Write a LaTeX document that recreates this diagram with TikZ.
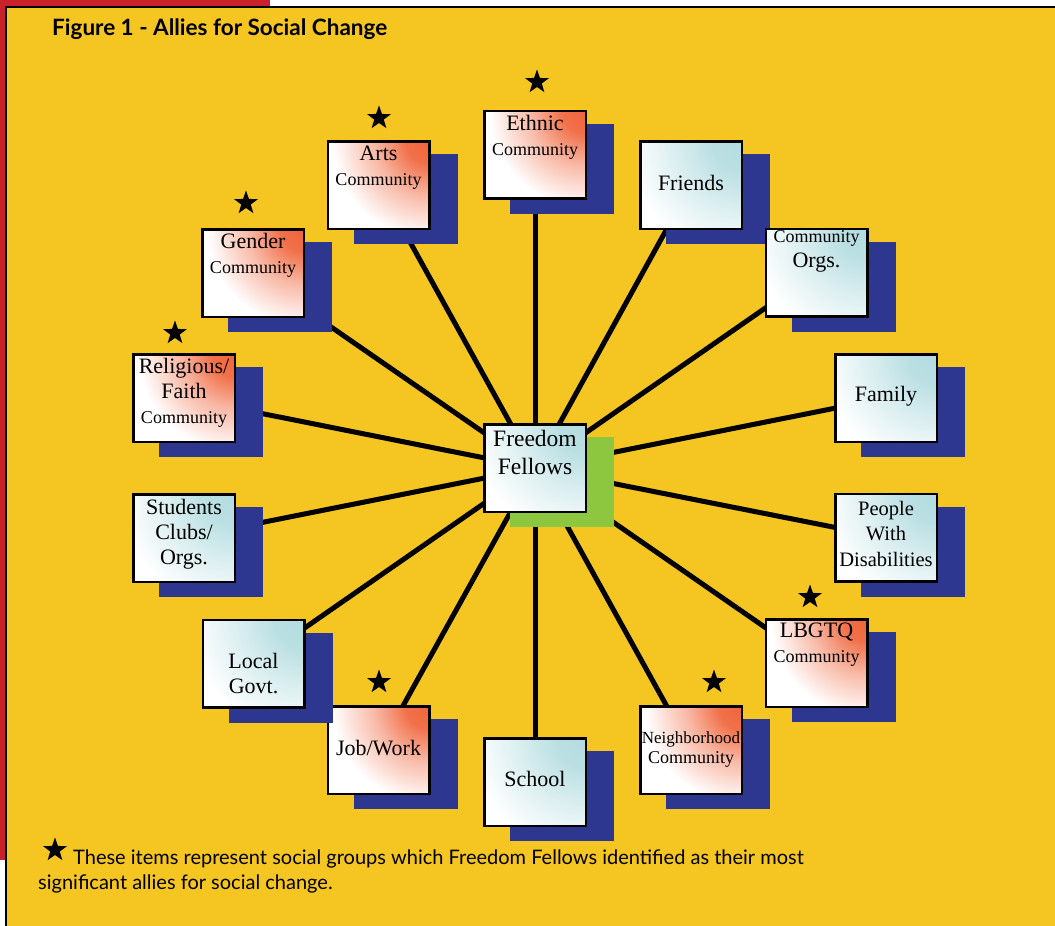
\documentclass[tikz,border=0pt]{standalone}
\usepackage{fontspec}
\setmainfont{Liberation Serif}
\newfontfamily\gillfont{Lato}
\usetikzlibrary{shapes.geometric,shadows,backgrounds}

\definecolor{panel}{HTML}{F5C522}
\definecolor{edge}{HTML}{C9212B}
\definecolor{navy}{HTML}{2E3790}
\definecolor{leaf}{HTML}{8DC63F}
\definecolor{hot}{HTML}{F0643A}
\definecolor{ice}{HTML}{B3DCE0}

\pgfdeclareradialshading{hotcorner}{\pgfpointorigin}{color(0bp)=(hot); color(5bp)=(hot!92!white); color(12bp)=(hot!45!white); color(21bp)=(white); color(50bp)=(white)}
\pgfdeclareradialshading{icecorner}{\pgfpointorigin}{color(0bp)=(ice); color(6bp)=(ice!90!white); color(14bp)=(ice!45!white); color(23bp)=(white); color(50bp)=(white)}

\newcommand{\bigtxt}{\fontsize{22}{25}\selectfont}
\newcommand{\smtxt}{\fontsize{18}{24}\selectfont}

\begin{document}
\begin{tikzpicture}[x=1pt, y=-1pt,
	box/.style={draw=black, line width=2.5pt, fill=white, inner sep=0pt,
		minimum width=101.5pt, minimum height=87.5pt,
		drop shadow={shadow xshift=27pt, shadow yshift=-14pt, fill=#1, draw=#1, opacity=1}},
	box/.default=navy,
	warm/.style={box, path picture={\shade[shading=hotcorner]
		(path picture bounding box.north east) circle (115pt);}},
	cool/.style={box=#1, path picture={\shade[shading=icecorner]
		(path picture bounding box.north east) circle (125pt);}},
	cool/.default=navy,
	spoke/.style={line width=5pt},
	starmark/.style={star, star points=5, star point ratio=2.5, fill=black, inner sep=0pt, minimum size=25pt},
	every label/.style={align=center, inner sep=0pt, font=\bigtxt}]
	\useasboundingbox (0,0) rectangle (1055,926);
	
	% Page frame
	\begin{scope}[on background layer]
		\fill[white] (0,0) rectangle (1055,926);
		\fill[edge] (0,0) rectangle (270,8);
		\fill[edge] (0,0) rectangle (7,860);
		\fill[panel] (6,7) rectangle (1055,926);
		\draw[line width=2pt] (6,926) -- (6,7) -- (1055,7);
	\end{scope}
	
	% Title
	\node[anchor=west, inner sep=0pt, font=\gillfont\bfseries\fontsize{22.5}{26}\selectfont] (title) at (52,29) {Figure 1 - Allies for Social Change};
	
	% Center
	\node[cool=leaf, label={[yshift=16pt, font=\fontsize{23.5}{28}\selectfont]center:{Freedom\\Fellows}}] (ff) at (535,468) {};
	
	% Allies
	\node[warm, label={[yshift=17pt]center:{Ethnic\\\smtxt Community}}] (ethnic) at (535,154.5) {};
	\node[cool, label={[yshift=2pt]center:{Friends}}] (friends) at (691,185) {};
	\node[cool, label={[yshift=21pt]center:{\smtxt Community\\Orgs.}}] (orgs) at (816.5,272.5) {};
	\node[cool, label={[yshift=2pt]center:{Family}}] (family) at (886,398) {};
	\node[cool, label={[yshift=4pt, font=\fontsize{20.5}{25.5}\selectfont]center:{People\\With\\Disabilities}}] (disab) at (886,537.5) {};
	\node[warm, label={[yshift=18pt]center:{LBGTQ\\\smtxt Community}}] (lbgtq) at (816.5,663) {};
	\node[warm, label={[yshift=0pt, font=\fontsize{17}{20}\selectfont]center:{Neighborhood\\\smtxt Community}}] (neigh) at (691,750) {};
	\node[cool, label={[yshift=3pt]center:{School}}] (school) at (535,782) {};
	\node[warm, label={[yshift=2pt]center:{Job/Work}}] (job) at (378.5,750) {};
	\node[cool, label={[yshift=-10pt]center:{Local\\Govt.}}] (govt) at (253.5,663.5) {};
	\node[cool, label={[yshift=4pt]center:{Students\\Clubs/\\Orgs.}}] (students) at (184,538) {};
	\node[warm, label={[yshift=5pt]center:{Religious/\\Faith\\\smtxt Community}}] (faith) at (184,398) {};
	\node[warm, label={[yshift=18pt]center:{Gender\\\smtxt Community}}] (gender) at (253,273) {};
	\node[warm, label={[yshift=17pt]center:{Arts\\\smtxt Community}}] (arts) at (378.5,185) {};
	
	% Spokes
	\begin{scope}[on background layer]
		\foreach \n in {ethnic,friends,orgs,family,disab,lbgtq,neigh,school,job,govt,students,faith,gender,arts}
		\draw[spoke] (ff.center) -- (\n.center);
	\end{scope}
	
	% Stars
	\node[starmark] (s-ethnic) at (537,82) {};
	\node[starmark] (s-arts) at (379,118) {};
	\node[starmark] (s-gender) at (246,203) {};
	\node[starmark] (s-faith) at (175,333) {};
	\node[starmark] (s-job) at (379,682) {};
	\node[starmark] (s-neigh) at (714,682) {};
	\node[starmark] (s-lbgtq) at (810,597) {};
	
	% Key
	\node[starmark] (s-key) at (55,850) {};
	\node[anchor=north west, align=left, inner sep=0pt, font=\gillfont\fontsize{20}{25}\selectfont] (note) at (38,850) {\hspace*{35pt}These items represent social groups which Freedom Fellows identified as their most\\significant allies for social change.};
\end{tikzpicture}
\end{document}
